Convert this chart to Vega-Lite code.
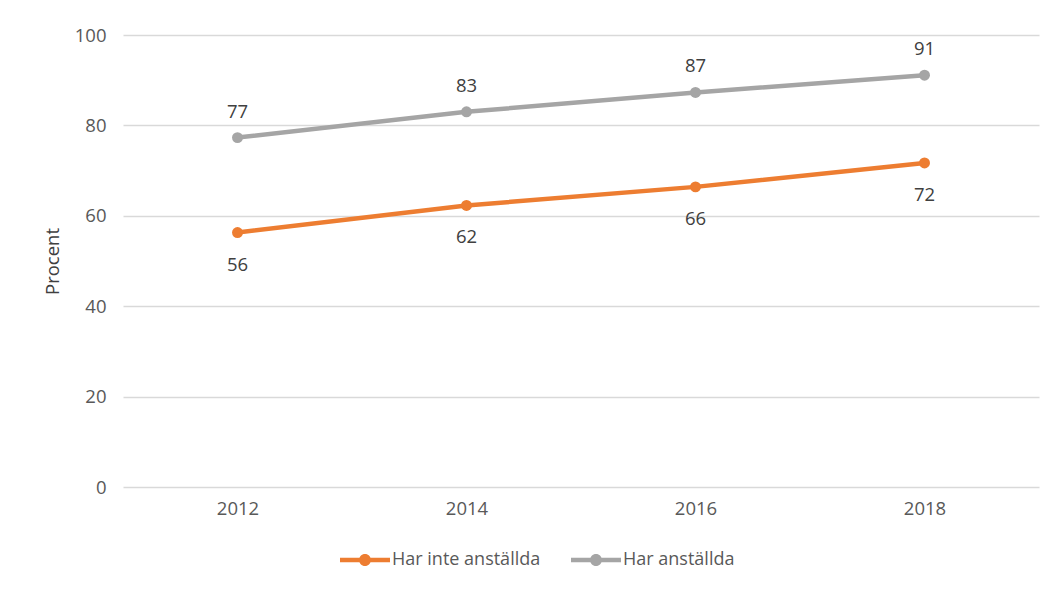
{
  "$schema": "https://vega.github.io/schema/vega-lite/v6.json",
  "autosize": "none",
  "width": 916,
  "height": 452,
  "padding": {"left": 123, "top": 35, "right": 15, "bottom": 103},
  "background": "white",
  "config": {
    "view": {"stroke": null},
    "font": "Open Sans"
  },
  "data": {
    "values": [
      {"year": "2012", "series": "Har inte anställda", "value": 56.3},
      {"year": "2014", "series": "Har inte anställda", "value": 62.3},
      {"year": "2016", "series": "Har inte anställda", "value": 66.4},
      {"year": "2018", "series": "Har inte anställda", "value": 71.7},
      {"year": "2012", "series": "Har anställda", "value": 77.3},
      {"year": "2014", "series": "Har anställda", "value": 83.0},
      {"year": "2016", "series": "Har anställda", "value": 87.3},
      {"year": "2018", "series": "Har anställda", "value": 91.1}
    ]
  },
  "encoding": {
    "x": {"field": "year", "type": "ordinal", "scale": {"type": "point", "padding": 0.5},
      "axis": {"title": null, "labelAngle": 0, "domain": false, "ticks": false, "labelPadding": 12,
        "labelFont": "Open Sans", "labelFontSize": 18.5, "labelColor": "#595959"}},
    "y": {"field": "value", "type": "quantitative", "scale": {"domain": [0, 100]},
      "axis": {"title": "Procent", "values": [0, 20, 40, 60, 80, 100], "domain": false, "ticks": false, "gridColor": "#D9D9D9", "gridWidth": 1.5, "labelPadding": 17, "titlePadding": 12,
        "labelFont": "Open Sans", "labelFontSize": 18.5, "labelColor": "#595959",
        "titleFont": "Open Sans", "titleFontSize": 18.5, "titleFontWeight": "normal", "titleColor": "#404040"}}
  },
  "layer": [
    {
      "mark": {"type": "line", "strokeWidth": 4.5, "point": {"filled": true, "size": 120, "opacity": 1}},
      "encoding": {
        "color": {"field": "series", "type": "nominal",
          "scale": {"domain": ["Har inte anställda", "Har anställda"], "range": ["#ED7D31", "#A5A5A5"]},
          "legend": {"title": null, "orient": "none", "legendX": 217, "legendY": 500, "direction": "horizontal",
            "symbolType": "M-1,-0.09L1,-0.09L1,0.09L-1,0.09Z M-0.24,0A0.24,0.24 0 1 1 0.24,0A0.24,0.24 0 1 1 -0.24,0Z",
            "symbolSize": 2500, "symbolStrokeWidth": 0, "symbolOpacity": 1, "labelOffset": 2, "columnPadding": 30,
            "labelFont": "Open Sans", "labelFontSize": 18, "labelColor": "#595959"}}
      }
    },
    {
      "transform": [{"filter": "datum.series === 'Har anställda'"}],
      "mark": {"type": "text", "dy": -26, "fontSize": 18.5, "color": "#404040"},
      "encoding": {"text": {"field": "value", "type": "quantitative", "format": ".0f"}}
    },
    {
      "transform": [{"filter": "datum.series === 'Har inte anställda'"}],
      "mark": {"type": "text", "dy": 32, "fontSize": 18.5, "color": "#404040"},
      "encoding": {"text": {"field": "value", "type": "quantitative", "format": ".0f"}}
    }
  ]
}
